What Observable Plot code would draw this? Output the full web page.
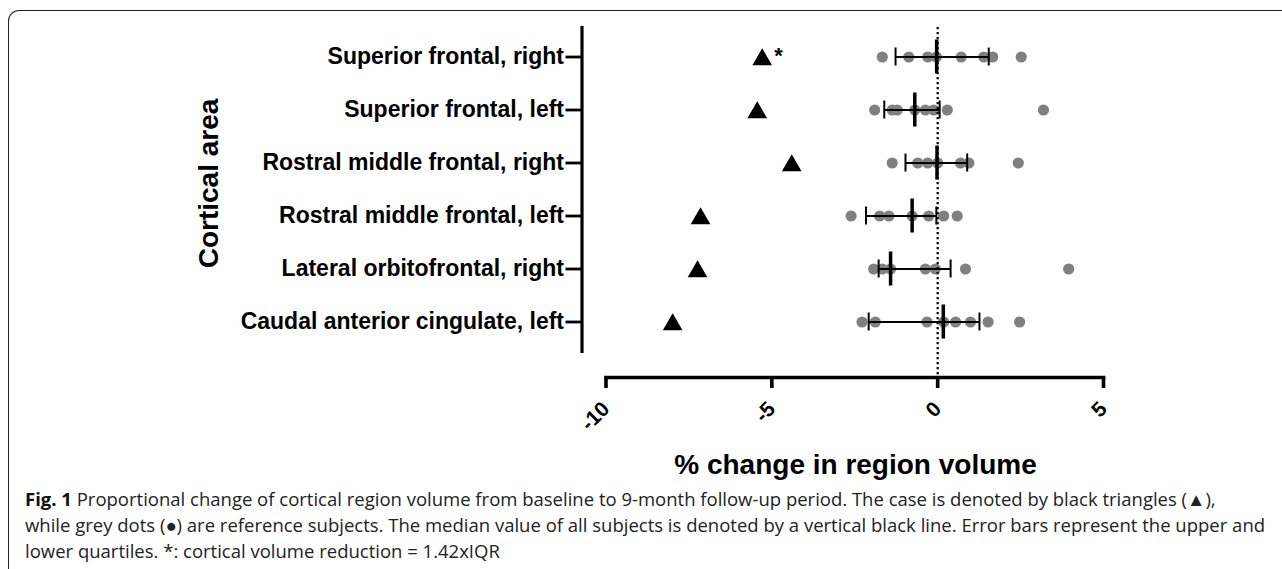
<!DOCTYPE html>
<html>
<head>
<meta charset="utf-8">
<script src="https://cdn.jsdelivr.net/npm/d3@7"></script>
<script src="https://cdn.jsdelivr.net/npm/@observablehq/plot@0.6"></script>
<style>
  body { margin: 0; background: #fff; }
  #page { position: relative; width: 1282px; height: 569px; overflow: hidden; background: #fff; }
  #frame { position: absolute; left: 8px; top: 10px; width: 1400px; height: 700px;
           border-top: 1.5px solid #222; border-left: 1.5px solid #222; border-top-left-radius: 11px; box-sizing: border-box; }
  #chart { position: absolute; left: 0; top: 0; }
  #caption { position: absolute; left: 25px; top: 486px; font-family: "Open Sans", sans-serif; font-size: 18.5px;
             line-height: 26px; color: #222; white-space: nowrap; }
  #caption b { font-weight: 700; color: #111; }
</style>
</head>
<body>
<div id="page">
  <div id="frame"></div>
  <div id="chart"></div>
  <div id="caption"></div>
</div>
<script>
// ---- data ----
const categories = [
  "Superior frontal, right",
  "Superior frontal, left",
  "Rostral middle frontal, right",
  "Rostral middle frontal, left",
  "Lateral orbitofrontal, right",
  "Caudal anterior cingulate, left"
];
const caseValues = [-5.29, -5.44, -4.40, -7.15, -7.24, -7.99];
const caseFlags = ["*", "", "", "", "", ""];
const refSuperiorFrontalRight = [-1.67, -0.87, -0.30, -0.04, 0.71, 1.39, 1.66, 2.52];
const refSuperiorFrontalLeft = [-1.90, -1.37, -1.22, -0.69, -0.37, -0.12, 0.29, 3.19];
const refRostralMiddleRight = [-1.37, -0.60, -0.30, 0.00, 0.69, 0.94, 2.43];
const refRostralMiddleLeft = [-2.61, -1.75, -1.47, -0.77, -0.27, 0.18, 0.59];
const refLateralOrbitoRight = [-1.93, -1.67, -1.42, -0.37, -0.07, 0.84, 3.95];
const refCaudalCingulateLeft = [-2.28, -1.88, -0.32, 0.18, 0.54, 0.99, 1.52, 2.47];
const medians = [-0.03, -0.69, -0.02, -0.77, -1.42, 0.17];
const lowerQuartiles = [-1.27, -1.61, -0.97, -2.16, -1.78, -2.08];
const upperQuartiles = [1.54, 0.06, 0.89, -0.04, 0.39, 1.26];
const xTicks = [-10, -5, 0, 5];
const xTickLabels = ["-10", "-5", "0", "5"];
const xTitle = "% change in region volume";
const yTitle = "Cortical area";
const captionLines = [
  ["Fig. 1", " Proportional change of cortical region volume from baseline to 9-month follow-up period. The case is denoted by black triangles (\u25B2),"],
  ["", "while grey dots (\u25CF) are reference subjects. The median value of all subjects is denoted by a vertical black line. Error bars represent the upper and"],
  ["", "lower quartiles. *: cortical volume reduction = 1.42xIQR"]
];

// ---- tables built from the arrays ----
const refValues = [refSuperiorFrontalRight, refSuperiorFrontalLeft, refRostralMiddleRight,
                   refRostralMiddleLeft, refLateralOrbitoRight, refCaudalCingulateLeft];
const rows = categories.map((c, i) => ({
  area: c, caseValue: caseValues[i], flag: caseFlags[i],
  median: medians[i], q1: lowerQuartiles[i], q3: upperQuartiles[i]
}));
const dots = refValues.flatMap((vals, i) => vals.map(v => ({area: categories[i], value: v})));

const font = "'Liberation Sans', Arial, Helvetica, sans-serif";

const chart = Plot.plot({
  width: 1282,
  height: 490,
  marginLeft: 581.5,
  marginRight: 179,
  marginTop: 27,
  marginBottom: 113,
  style: {fontFamily: font, background: "transparent", overflow: "visible", color: "#000"},
  x: {domain: [-10, 5], range: [605.5, 1103]},
  y: {type: "band", domain: categories, range: [27.5, 350.9], padding: 0},
  marks: [
    Plot.dot(dots, {x: "value", y: "area", r: 5.6, fill: "#808080", stroke: "none"}),
    Plot.ruleX([0], {stroke: "#000", strokeWidth: 2.2, strokeDasharray: "2.2,2.8"}),
    Plot.link(rows, {x1: "q1", x2: "q3", y1: "area", y2: "area", stroke: "#000", strokeWidth: 2}),
    Plot.tickX(rows, {x: "q1", y: "area", stroke: "#000", strokeWidth: 2, insetTop: 17.5, insetBottom: 17.5}),
    Plot.tickX(rows, {x: "q3", y: "area", stroke: "#000", strokeWidth: 2, insetTop: 17.5, insetBottom: 17.5}),
    Plot.tickX(rows, {x: "median", y: "area", stroke: "#000", strokeWidth: 3.5, insetTop: 9.5, insetBottom: 9.5}),
    Plot.dot(rows, {x: "caseValue", y: "area", symbol: "triangle", r: 7.3, fill: "#000", stroke: "none", dy: 2.5}),
    Plot.text(rows, {x: "caseValue", y: "area", text: "flag", dx: 12, dy: -1, textAnchor: "start",
                     fontSize: 22, fontWeight: "bold", fill: "#000"}),
    Plot.frame({anchor: "left", stroke: "#000", strokeWidth: 3.2, insetBottom: 26}),
    Plot.frame({anchor: "bottom", stroke: "#000", strokeWidth: 3.6, insetLeft: 24}),
    Plot.axisY({tickSize: 16, tickPadding: 2, strokeWidth: 2.8, fontSize: 23, fontWeight: "bold",
                fill: "#000", stroke: "#000", label: null}),
    Plot.axisX({ticks: xTicks, tickFormat: d => xTickLabels[xTicks.indexOf(d)], tickSize: 11, tickPadding: 17,
                tickRotate: -45, strokeWidth: 3.6, fontSize: 21, fontWeight: "bold", fill: "#000", stroke: "#000", label: null}),
    Plot.text([yTitle], {text: d => d, frameAnchor: "left", textAnchor: "middle", rotate: -90, dx: -372.5, dy: -19,
                         fontSize: 28, fontWeight: "bold", fill: "#000"}),
    Plot.text([xTitle], {text: d => d, frameAnchor: "bottom", textAnchor: "middle", dx: 12.75, dy: 96,
                         fontSize: 28, fontWeight: "bold", fill: "#000"})
  ]
});
document.getElementById("chart").appendChild(chart);

const cap = document.getElementById("caption");
captionLines.forEach(([bold, rest]) => {
  const line = document.createElement("div");
  if (bold) { const b = document.createElement("b"); b.textContent = bold; line.appendChild(b); }
  line.appendChild(document.createTextNode(rest));
  cap.appendChild(line);
});
</script>
</body>
</html>
